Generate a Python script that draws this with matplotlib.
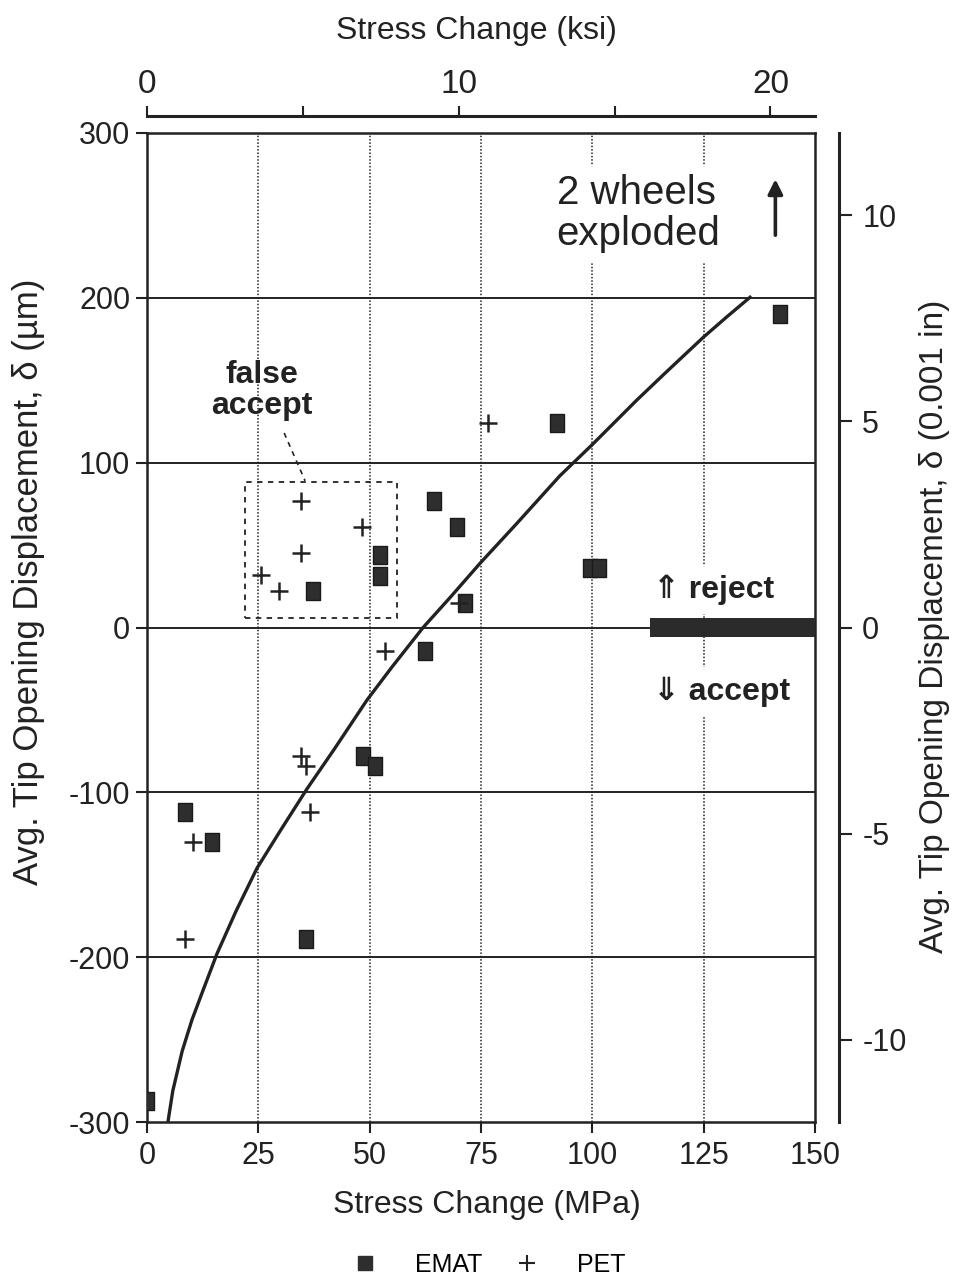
import matplotlib
matplotlib.use("Agg")
import matplotlib.pyplot as plt
from matplotlib import font_manager
from matplotlib.patches import Rectangle
from matplotlib.lines import Line2D

# stress change (MPa) vs. average tip opening displacement (um)
emat_mpa = [0, 8.5, 14.6, 35.7, 48.5, 51.2, 62.4, 37.3, 52.3, 52.3,
            64.4, 69.6, 71.4, 92, 99.5, 101.5, 142.2]
emat_um = [-287, -112, -130, -189, -78, -84, -14, 22, 31, 44,
           77, 61, 15, 124, 36, 36, 190]

pet_mpa = [8.5, 10.3, 34.6, 35.7, 36.6, 53.4, 25.6, 29.6, 34.6, 34.6,
           48.3, 70, 76.6]
pet_um = [-189, -130, -78, -84, -112, -14, 32, 22, 45, 77,
          61, 15, 124]

# fitted reject/accept boundary
curve_mpa = [4.7, 5.8, 7.9, 10.1, 12.6, 15.7, 20, 24.7, 30, 35.9, 42, 49.4,
             55, 62, 68, 74.8, 83, 92.7, 100, 110, 117, 124.9, 130, 135.7]
curve_um = [-300, -281, -257, -238, -220, -198, -172, -146, -123, -98, -74, -44,
            -24, 0, 18, 39, 63, 92, 111, 138, 156, 176, 188, 201]

# false-accept region and the reject/accept threshold bar
box_mpa = (22, 56.1)
box_um = (6, 88)
bar_mpa = (113, 150)
bar_um = 11

x_ticks = [0, 25, 50, 75, 100, 125, 150]
y_ticks = [-300, -200, -100, 0, 100, 200, 300]
ksi_ticks = [0, 10, 20]
ksi_minor = [5, 15]
mil_ticks = [-10, -5, 0, 5, 10]

MPA_PER_KSI = 7.0
UM_PER_MIL = 25.0

names = {f.name for f in font_manager.fontManager.ttflist}
narrow = "Liberation Sans Narrow" if "Liberation Sans Narrow" in names else "Liberation Sans"
plt.rcParams['font.family'] = ['Liberation Sans', 'DejaVu Sans']
plt.rcParams['axes.unicode_minus'] = False

ink = '#222222'
fig = plt.figure(figsize=(9.56, 12.79), dpi=100)
ax = fig.add_axes([147/956, 1 - 1122/1279, 668/956, 989/1279])

ax.set_xlim(0, 150)
ax.set_ylim(-300, 300)
for s in ax.spines.values():
    s.set_linewidth(1.8)
    s.set_color(ink)

# grid: solid horizontal, dotted vertical
for y in y_ticks[1:-1]:
    ax.axhline(y, color=ink, lw=1.4, zorder=1)
for x in x_ticks[1:-1]:
    ax.axvline(x, color=ink, lw=1.1, ls=(0, (1, 1.2)), zorder=1)

ax.set_xticks(x_ticks)
ax.set_yticks(y_ticks)
ax.tick_params(axis='x', direction='out', length=8, width=1.5, pad=6,
               labelsize=22, colors=ink)
ax.tick_params(axis='y', direction='out', length=8, width=1.5, pad=4,
               labelsize=22, colors=ink)
for lab in ax.get_xticklabels():
    lab.set_family(narrow)

# top ksi axis
top = ax.secondary_xaxis('top', functions=(lambda m: m / MPA_PER_KSI,
                                           lambda k: k * MPA_PER_KSI))
top.spines['top'].set_position(('outward', 12))
top.spines['top'].set_linewidth(2.2)
top.spines['top'].set_color(ink)
top.set_xticks(ksi_ticks)
top.set_xticks(ksi_minor, minor=True)
top.tick_params(which='both', direction='out', length=7, width=1.5, colors=ink)
top.tick_params(which='major', labelsize=24, pad=5)
for lab in top.get_xticklabels():
    lab.set_family(narrow)

# right 0.001 in axis
right = ax.twinx()
right.set_ylim(-300 / UM_PER_MIL, 300 / UM_PER_MIL)
for k in ('top', 'bottom', 'left'):
    right.spines[k].set_visible(False)
right.spines['right'].set_position(('outward', 17))
right.spines['right'].set_linewidth(2.2)
right.spines['right'].set_color(ink)
right.set_yticks(mil_ticks)
right.tick_params(direction='out', length=9, width=1.5, pad=8,
                  labelsize=22, colors=ink)

ax.plot(curve_mpa, curve_um, color=ink, lw=2.4, zorder=3,
        solid_capstyle='butt', solid_joinstyle='round')

rect_marker = [(-0.82, -1), (0.82, -1), (0.82, 1), (-0.82, 1), (-0.82, -1)]
ax.plot(emat_mpa, emat_um, ls='none', marker=rect_marker, ms=12.5,
        color='#2e2e2e', mec='#1a1a1a', zorder=4)
ax.plot(pet_mpa, pet_um, ls='none', marker='+', ms=13, mew=1.8,
        color=ink, zorder=4)

# false-accept box with its label
ax.add_patch(Rectangle((box_mpa[0], box_um[0]), box_mpa[1] - box_mpa[0],
                       box_um[1] - box_um[0], fill=False, ec=ink, lw=1.3,
                       ls=(0, (3, 3)), zorder=2))
ax.plot([30.8, 35.5], [118, 89], color=ink, lw=1.2, ls=(0, (3, 3)), zorder=2)
ax.text(25.8, 144, "false\naccept", ha='center', va='center', fontsize=23,
        fontweight='bold', linespacing=1.05, color=ink, zorder=2.2)

ax.text(92, 251, "2 wheels\nexploded", ha='left', va='center', fontsize=29,
        linespacing=1.1, color=ink, zorder=2.2,
        bbox=dict(fc='white', ec='none', pad=6))
ax.annotate('', xy=(141.1, 272), xytext=(141.1, 238),
            arrowprops=dict(arrowstyle='-|>', lw=2.6, color=ink,
                            mutation_scale=22, shrinkA=0, shrinkB=0))

# threshold bar
ax.barh(0, bar_mpa[1] - bar_mpa[0], left=bar_mpa[0], height=bar_um,
        color='#2b2b2b', zorder=3)
ax.text(113.6, 23, "\u21d1 reject", ha='left', va='center', fontsize=23,
        fontweight='bold', color=ink, zorder=2.2,
        family=['Liberation Sans', 'DejaVu Sans'],
        bbox=dict(fc='white', ec='none', pad=7))
ax.text(113.6, -39, "\u21d3 accept", ha='left', va='center', fontsize=23,
        fontweight='bold', color=ink, zorder=2.2,
        family=['Liberation Sans', 'DejaVu Sans'],
        bbox=dict(fc='white', ec='none', pad=7))

# axis titles
fig.text(0.498, 0.976, "Stress Change (ksi)", ha='center', va='center',
         fontsize=23, color=ink)
fig.text(0.509, 0.058, "Stress Change (MPa)", ha='center', va='center',
         fontsize=23, color=ink)
fig.text(0.030, 0.545, "Avg. Tip Opening Displacement, \u03b4 (\u00b5m)",
         rotation=90, ha='center', va='center', fontsize=25, family=narrow,
         color=ink)
fig.text(0.978, 0.51, "Avg. Tip Opening Displacement, \u03b4 (0.001 in)",
         rotation=90, ha='center', va='center', fontsize=24, family=narrow,
         color=ink)

handles = [Line2D([], [], ls='none', marker='s', ms=10, color='#2e2e2e'),
           Line2D([], [], ls='none', marker='+', ms=12, mew=1.5, color=ink)]
fig.legend(handles, ['EMAT', 'PET'], loc='center', ncol=2, frameon=False,
           bbox_to_anchor=(0.505, 0.011), fontsize=18, handletextpad=1.0,
           columnspacing=0.8)

fig.savefig("out.png", dpi=100)
